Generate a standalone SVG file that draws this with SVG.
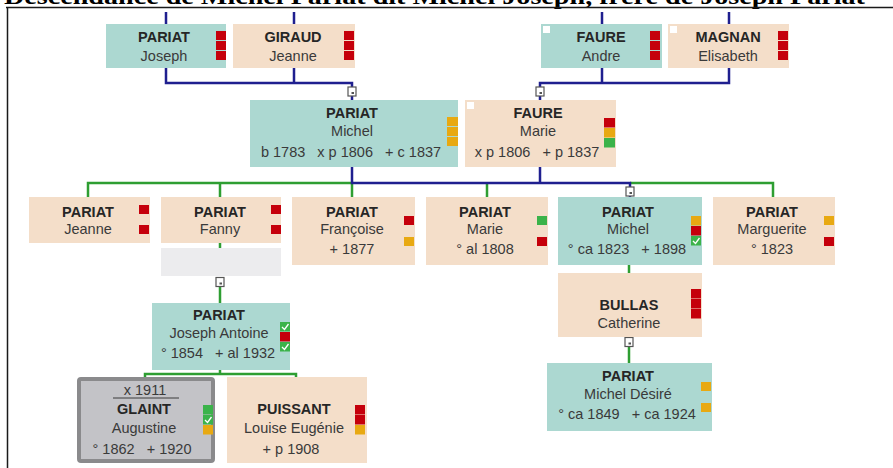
<svg xmlns="http://www.w3.org/2000/svg" xmlns:xlink="http://www.w3.org/1999/xlink" width="893" height="468" viewBox="0 0 893 468" xml:space="preserve">
<style>
text{font-family:"Liberation Sans",Arial,sans-serif;font-size:14.5px;fill:#3a3a3a;text-anchor:middle;white-space:pre}
.s{font-weight:bold;fill:#262626}
.title{font-family:"Liberation Serif","Times New Roman",serif;font-size:24px;font-weight:bold;fill:#000;text-anchor:start}
.t{fill:#acd8d1}
.p{fill:#f4dec9}
.r{fill:#c5000b}
.o{fill:#e8a912}
.g{fill:#3bb34a}
.w{fill:#fff}
.blue{stroke:#1f1f8f;stroke-width:2.5;fill:none}
.green{stroke:#2e9e32;stroke-width:2.5;fill:none}
.frame{stroke:#1a1a1a;stroke-width:1.5;fill:none}
</style>
<defs>
<g id="tog"><rect x="-4" y="-4.5" width="8" height="9" fill="#fff" stroke="#555" stroke-width="1.2"/><rect x="-0.5" y="0.5" width="2.5" height="2" fill="#555"/></g>
<g id="chk"><rect width="10" height="9.5" class="g"/><polyline points="2,5 4.5,7.5 8.5,2" fill="none" stroke="#fff" stroke-width="1.3"/></g>
</defs>

<text class="title" x="4" y="4" textLength="861" lengthAdjust="spacingAndGlyphs">Descendance de Michel Pariat dit Michel Joseph, frère de Joseph Pariat</text>
<path class="frame" d="M6,7.5 H893 M7.5,7 V468"/>

<g id="connectors">
<path class="blue" d="M166,12 V24 M294,12 V24 M602,12 V24 M729,12 V24"/>
<path class="blue" d="M166,68 V83 H352 V87 M294,68 V83 M352,96 V100"/>
<path class="blue" d="M729,68 V83 H540 V87 M602,68 V83 M540,96 V100"/>
<path class="green" d="M88,197 V183 H352 V197 M220,183 V197 M487,183 V197 M630,183 H773 V197"/>
<path class="blue" d="M352,167 V183 H630 V187 M540,167 V183 M630,196 V197"/>
<path class="green" d="M220,243 V248 M220,287 V303"/>
<path class="green" d="M220,370 V374 M145,377 V374 H296 V377"/>
<path class="green" d="M629,265 V273 M629,347 V363"/>
<use xlink:href="#tog" x="352" y="91.5"/>
<use xlink:href="#tog" x="540" y="91.5"/>
<use xlink:href="#tog" x="630" y="191.5"/>
<use xlink:href="#tog" x="220" y="282"/>
<use xlink:href="#tog" x="629" y="342"/>
</g>

<g id="pariat-joseph">
<rect class="t" x="106" y="24" width="120" height="44"/>
<text class="s" x="164" y="42">PARIAT</text>
<text x="164" y="61">Joseph</text>
<rect class="r" x="216" y="31" width="10" height="9"/><rect class="r" x="216" y="41" width="10" height="9"/><rect class="r" x="216" y="51" width="10" height="9"/>
</g>

<g id="giraud-jeanne">
<rect class="p" x="233" y="24" width="122" height="44"/>
<text class="s" x="293" y="42">GIRAUD</text>
<text x="293" y="61">Jeanne</text>
<rect class="r" x="344" y="31" width="10" height="9"/><rect class="r" x="344" y="41" width="10" height="9"/><rect class="r" x="344" y="51" width="10" height="9"/>
</g>

<g id="faure-andre">
<rect class="t" x="541" y="24" width="121" height="44"/>
<rect class="w" x="543" y="26" width="7" height="7"/>
<text class="s" x="601" y="42">FAURE</text>
<text x="601" y="61">Andre</text>
<rect class="r" x="650" y="31" width="10" height="9"/><rect class="r" x="650" y="41" width="10" height="9"/><rect class="r" x="650" y="51" width="10" height="9"/>
</g>

<g id="magnan-elisabeth">
<rect class="p" x="668" y="24" width="121" height="44"/>
<rect class="w" x="670" y="26" width="7" height="7"/>
<text class="s" x="728" y="42">MAGNAN</text>
<text x="728" y="61">Elisabeth</text>
<rect class="r" x="778" y="31" width="10" height="9"/><rect class="r" x="778" y="41" width="10" height="9"/><rect class="r" x="778" y="51" width="10" height="9"/>
</g>

<g id="pariat-michel">
<rect class="t" x="250" y="100" width="208" height="67"/>
<text class="s" x="352" y="118">PARIAT</text>
<text x="352" y="136">Michel</text>
<text x="351" y="157">b 1783   x p 1806   + c 1837</text>
<rect class="o" x="447" y="117" width="11" height="9"/><rect class="o" x="447" y="127" width="11" height="9"/><rect class="o" x="447" y="137" width="11" height="9"/>
</g>

<g id="faure-marie">
<rect class="p" x="465" y="100" width="151" height="67"/>
<rect class="w" x="467" y="102" width="7" height="7"/>
<text class="s" x="538" y="118">FAURE</text>
<text x="538" y="136">Marie</text>
<text x="537" y="157">x p 1806   + p 1837</text>
<rect class="r" x="604" y="118" width="11" height="9.5"/><rect class="o" x="604" y="128" width="11" height="9.5"/><rect class="g" x="604" y="138" width="11" height="9.5"/>
</g>

<g id="pariat-jeanne">
<rect class="p" x="29" y="197" width="121" height="46"/>
<text class="s" x="88" y="217">PARIAT</text>
<text x="88" y="234">Jeanne</text>
<rect class="r" x="139" y="205" width="10" height="9"/><rect class="r" x="139" y="225" width="10" height="9"/>
</g>

<g id="pariat-fanny">
<rect class="p" x="161" y="197" width="120" height="46"/>
<text class="s" x="220" y="217">PARIAT</text>
<text x="220" y="234">Fanny</text>
<rect class="r" x="271" y="205" width="10" height="9"/><rect class="r" x="271" y="225" width="10" height="9"/>
</g>

<g id="fanny-spouse">
<rect x="161" y="248" width="120" height="28" fill="#ececee"/>
</g>

<g id="pariat-francoise">
<rect class="p" x="292" y="197" width="123" height="68"/>
<text class="s" x="352" y="217">PARIAT</text>
<text x="352" y="234">Françoise</text>
<text x="352" y="254">+ 1877</text>
<rect class="r" x="404" y="216" width="10" height="9"/><rect class="o" x="404" y="237" width="10" height="9"/>
</g>

<g id="pariat-marie">
<rect class="p" x="426" y="197" width="122" height="68"/>
<text class="s" x="485" y="217">PARIAT</text>
<text x="485" y="234">Marie</text>
<text x="485" y="254">° al 1808</text>
<rect class="g" x="537" y="216" width="10" height="9"/><rect class="r" x="537" y="237" width="10" height="9"/>
</g>

<g id="pariat-michel-1823">
<rect class="t" x="558" y="197" width="144" height="68"/>
<text class="s" x="628" y="217">PARIAT</text>
<text x="628" y="234">Michel</text>
<text x="627" y="254">° ca 1823   + 1898</text>
<rect class="o" x="691" y="216" width="10" height="9.5"/><rect class="r" x="691" y="226" width="10" height="9.5"/><use xlink:href="#chk" x="691" y="236"/>
</g>

<g id="pariat-marguerite">
<rect class="p" x="713" y="197" width="122" height="68"/>
<text class="s" x="772" y="217">PARIAT</text>
<text x="772" y="234">Marguerite</text>
<text x="772" y="254">° 1823</text>
<rect class="o" x="824" y="216" width="10" height="9"/><rect class="r" x="824" y="237" width="10" height="9"/>
</g>

<g id="pariat-joseph-antoine">
<rect class="t" x="152" y="303" width="138" height="67"/>
<text class="s" x="219" y="320">PARIAT</text>
<text x="219" y="338">Joseph Antoine</text>
<text x="218" y="358">° 1854   + al 1932</text>
<use xlink:href="#chk" x="280" y="322"/><rect class="r" x="280" y="332" width="10" height="9.5"/><use xlink:href="#chk" x="280" y="342"/>
</g>

<g id="glaint-augustine">
<rect x="79" y="379" width="134" height="82" rx="2" fill="#c3c3c7" stroke="#8a8a8c" stroke-width="4"/>
<text x="145" y="395">x 1911</text>
<line x1="113" y1="398" x2="179" y2="398" stroke="#3a3a3a" stroke-width="1"/>
<text class="s" x="144" y="414">GLAINT</text>
<text x="144" y="433">Augustine</text>
<text x="142" y="454">° 1862   + 1920</text>
<rect class="g" x="203" y="405" width="10" height="9.5"/><use xlink:href="#chk" x="203" y="415"/><rect class="o" x="203" y="425" width="10" height="9.5"/>
</g>

<g id="puissant-louise">
<rect class="p" x="227" y="377" width="140" height="86"/>
<text class="s" x="294" y="414">PUISSANT</text>
<text x="294" y="433">Louise Eugénie</text>
<text x="291" y="454">+ p 1908</text>
<rect class="r" x="355" y="405" width="10" height="9.5"/><rect class="r" x="355" y="415" width="10" height="9.5"/><rect class="o" x="355" y="425" width="10" height="9.5"/>
</g>

<g id="bullas-catherine">
<rect class="p" x="558" y="273" width="144" height="64"/>
<text class="s" x="629" y="310">BULLAS</text>
<text x="629" y="328">Catherine</text>
<rect class="r" x="691" y="289" width="10" height="9.5"/><rect class="r" x="691" y="299" width="10" height="9.5"/><rect class="r" x="691" y="309" width="10" height="9.5"/>
</g>

<g id="pariat-michel-desire">
<rect class="t" x="547" y="363" width="165" height="68"/>
<text class="s" x="628" y="381">PARIAT</text>
<text x="628" y="399">Michel Désiré</text>
<text x="627" y="419">° ca 1849   + ca 1924</text>
<rect class="o" x="701" y="382" width="10" height="9"/><rect class="o" x="701" y="403" width="10" height="9"/>
</g>
</svg>
